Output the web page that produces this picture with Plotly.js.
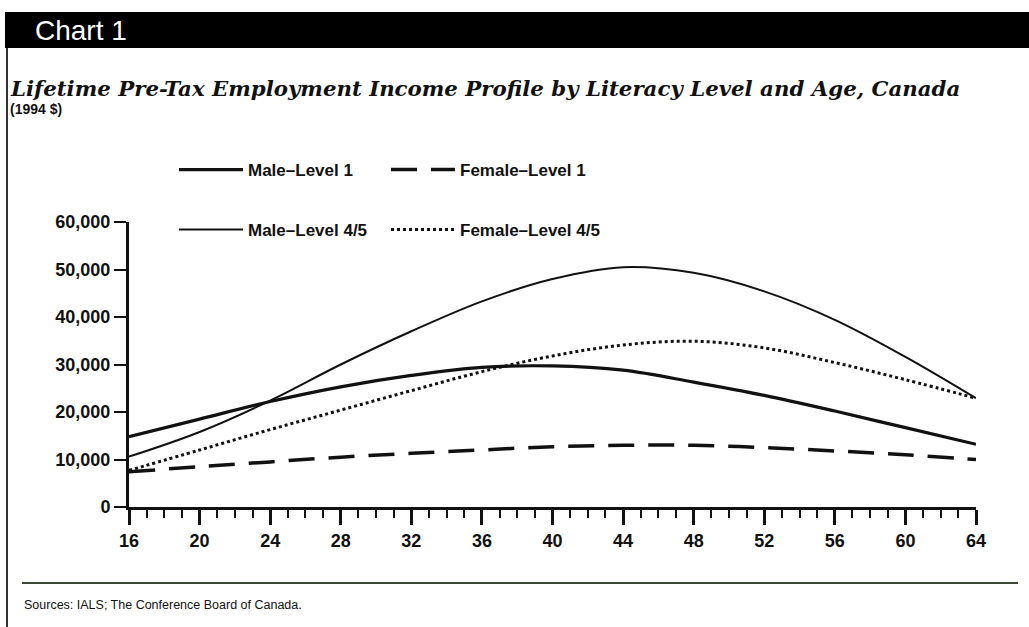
<!DOCTYPE html>
<html>
<head>
<meta charset="utf-8">
<script src="https://cdn.plot.ly/plotly-3.0.1.min.js"></script>
<style>html,body{margin:0;padding:0;background:#fff;}#chart{width:1029px;height:627px;}</style>
</head>
<body>
<div id="chart"></div>
<script>
// ---- data ----
const ages = [16, 20, 24, 28, 32, 36, 40, 44, 48, 52, 56, 60, 64];
const maleLevel1 = [14800, 18500, 22200, 25300, 27700, 29400, 29700, 28800, 26300, 23500, 20200, 16700, 13200];
const femaleLevel1 = [7400, 8500, 9500, 10500, 11300, 12000, 12700, 13000, 13000, 12500, 11800, 11000, 10000];
const maleLevel45 = [10600, 15800, 22400, 30000, 37000, 43300, 48000, 50500, 49300, 45400, 39400, 31600, 22900];
const femaleLevel45 = [7700, 12000, 16300, 20400, 24500, 28500, 31800, 34100, 34900, 33500, 30400, 26800, 22900];
const seriesNames = ["Male\u2013Level 1", "Female\u2013Level 1", "Male\u2013Level 4/5", "Female\u2013Level 4/5"];
const xTicks = [16, 20, 24, 28, 32, 36, 40, 44, 48, 52, 56, 60, 64];
const yTicks = [0, 10000, 20000, 30000, 40000, 50000, 60000];
const yTickLabels = ["0", "10,000", "20,000", "30,000", "40,000", "50,000", "60,000"];

// ---- layout geometry (pixels) ----
const W = 1029, H = 627;
const L = 129, R = 976, T = 222, B = 507;
const px = p => (p - L) / (R - L);
const py = p => (B - p) / (B - T);

const narrow = "'Liberation Sans Narrow', 'Liberation Sans', Arial, sans-serif";
const ink = "#111";

const traces = [
  {x: ages, y: maleLevel1, name: seriesNames[0], mode: "lines", line: {color: ink, width: 3.2, shape: "spline"}, legend: "legend"},
  {x: ages, y: femaleLevel1, name: seriesNames[1], mode: "lines", line: {color: ink, width: 3.5, dash: "26px,14px", shape: "spline"}, legend: "legend2"},
  {x: ages, y: maleLevel45, name: seriesNames[2], mode: "lines", line: {color: ink, width: 2, shape: "spline"}, legend: "legend3"},
  {x: ages, y: femaleLevel45, name: seriesNames[3], mode: "lines", line: {color: ink, width: 3, dash: "3px,3px", shape: "spline"}, legend: "legend4"}
];

const legendCommon = {
  orientation: "h",
  bgcolor: "rgba(0,0,0,0)",
  font: {family: narrow, size: 17, color: ink, weight: "bold"},
  itemwidth: 64,
  xanchor: "left",
  yanchor: "middle"
};
const leg = (x, y) => Object.assign({}, legendCommon, {x: px(x), y: py(y)});

const layout = {
  width: W, height: H,
  margin: {l: L, r: W - R, t: T, b: H - B, pad: 0},
  paper_bgcolor: "#fff",
  plot_bgcolor: "#fff",
  showlegend: true,
  legend: leg(174, 170),
  legend2: leg(386, 170),
  legend3: leg(174, 230),
  legend4: leg(386, 230),
  xaxis: {
    range: [16, 64],
    tickmode: "array", tickvals: xTicks, ticktext: xTicks.map(String),
    ticks: "outside", ticklen: 15, tickwidth: 3, tickcolor: ink,
    minor: {dtick: 1, tick0: 16, ticks: "outside", ticklen: 8, tickwidth: 2, tickcolor: ink, showgrid: false},
    showline: true, linecolor: ink, linewidth: 3,
    showgrid: false, zeroline: false,
    tickfont: {family: narrow, size: 18, color: ink, weight: "bold"},
    fixedrange: true
  },
  yaxis: {
    range: [0, 60000],
    tickmode: "array", tickvals: yTicks, ticktext: yTickLabels,
    ticks: "outside", ticklen: 12, tickwidth: 2, tickcolor: ink,
    showline: true, linecolor: ink, linewidth: 3,
    showgrid: false, zeroline: false,
    tickfont: {family: narrow, size: 18, color: ink, weight: "bold"},
    fixedrange: true
  },
  shapes: [
    // black header band
    {type: "rect", xref: "paper", yref: "paper", x0: px(5), x1: px(1029), y0: py(48), y1: py(12), fillcolor: "#000", line: {width: 0}, layer: "below"},
    // left frame line
    {type: "line", xref: "paper", yref: "paper", x0: px(7), x1: px(7), y0: py(48), y1: py(627), line: {color: "#333", width: 2}},
    // rule above source
    {type: "line", xref: "paper", yref: "paper", x0: px(22), x1: px(1018), y0: py(583), y1: py(583), line: {color: "#3b4a35", width: 2}}
  ],
  annotations: [
    {text: "Chart 1", xref: "paper", yref: "paper", x: px(33), y: py(31), xanchor: "left", yanchor: "middle", showarrow: false,
     font: {family: "'Liberation Sans', Arial, sans-serif", size: 28, color: "#fff", weight: "normal"}},
    {text: "Lifetime Pre-Tax Employment Income Profile by Literacy Level and Age, Canada", xref: "paper", yref: "paper",
     x: px(8), y: py(88), xanchor: "left", yanchor: "middle", showarrow: false,
     font: {family: "'DejaVu Serif', serif", size: 21.3, color: ink, weight: "bold", style: "italic"}},
    {text: "(1994 $)", xref: "paper", yref: "paper", x: px(8), y: py(109), xanchor: "left", yanchor: "middle", showarrow: false,
     font: {family: narrow, size: 14, color: ink, weight: "bold"}},
    {text: "Sources: IALS; The Conference Board of Canada.", xref: "paper", yref: "paper", x: px(22), y: py(605), xanchor: "left", yanchor: "middle", showarrow: false,
     font: {family: narrow, size: 12.5, color: ink}}
  ]
};

Plotly.newPlot("chart", traces, layout, {displayModeBar: false, staticPlot: true});
</script>
</body>
</html>
